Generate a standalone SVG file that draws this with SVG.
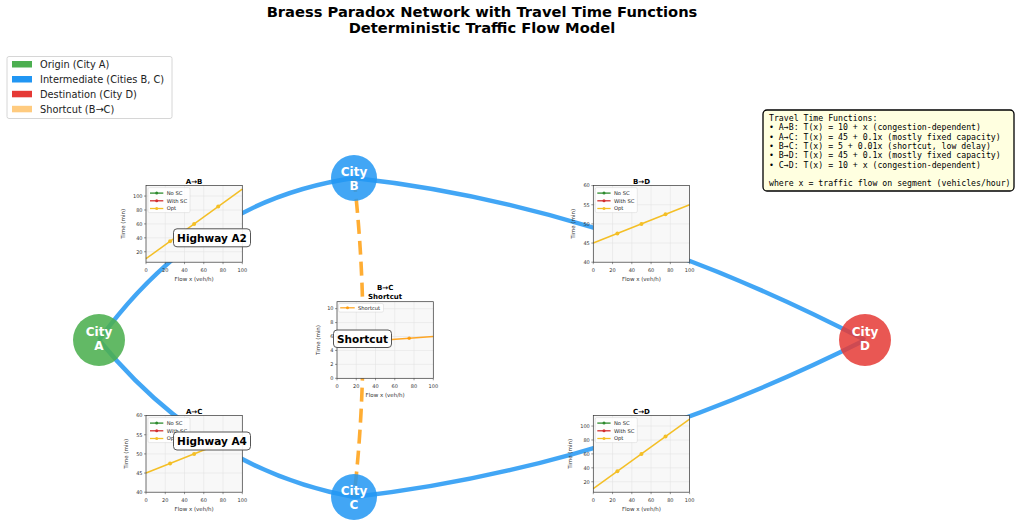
<svg xmlns="http://www.w3.org/2000/svg" width="1016" height="527" viewBox="0 0 1016 527">
<style>
.ttl{font-family:'DejaVu Sans',sans-serif;font-weight:bold;font-size:14.7px;fill:#000;text-anchor:middle}
.lgt{font-family:'DejaVu Sans',sans-serif;font-size:9.8px;fill:#222}
.edge{fill:none;stroke:#2196F3;stroke-width:4.4;stroke-opacity:0.85}
.sc{fill:none;stroke:#FF9800;stroke-width:3.6;stroke-opacity:0.8;stroke-dasharray:14 7}
.nt{font-family:'DejaVu Sans',sans-serif;font-weight:bold;font-size:12px;fill:#fff;text-anchor:middle}
.axbg{fill:#F8F8F8}
.spine{fill:none;stroke:#333;stroke-width:0.7}
.grid{fill:none;stroke:#E0E0E0;stroke-width:0.5}
.tk{fill:none;stroke:#333;stroke-width:0.5}
.xt{font-family:'DejaVu Sans',sans-serif;font-size:5px;fill:#333;text-anchor:middle}
.yt{font-family:'DejaVu Sans',sans-serif;font-size:5px;fill:#333;text-anchor:end}
.al{font-family:'DejaVu Sans',sans-serif;font-size:5.5px;fill:#333;text-anchor:middle}
.ct{font-family:'DejaVu Sans',sans-serif;font-weight:bold;font-size:7px;fill:#000;text-anchor:middle}
.opt{fill:none;stroke:#F4BF26;stroke-width:1.5}
.optm{fill:#F4BF26}
.scl{fill:none;stroke:#FF9800;stroke-opacity:0.85;stroke-width:1.3}
.scm{fill:#FF9800;fill-opacity:0.85}
.lgb{fill:#fff;fill-opacity:0.85;stroke:#CCC;stroke-width:0.4}
.lt{font-family:'DejaVu Sans',sans-serif;font-size:5.2px;fill:#222}
.hb{fill:#fff;fill-opacity:0.92;stroke:#555;stroke-width:1}
.ht{font-family:'DejaVu Sans',sans-serif;font-weight:bold;font-size:10.5px;fill:#000;text-anchor:middle}
.mono{font-family:'DejaVu Sans Mono','Liberation Mono',monospace;font-size:8.2px;fill:#000}
</style>

<g id="title">
<text class="ttl" x="482" y="17">Braess Paradox Network with Travel Time Functions</text>
<text class="ttl" x="482" y="33">Deterministic Traffic Flow Model</text>
</g>

<g id="legend">
<rect x="7" y="56.5" width="165" height="62" rx="2" fill="#fff" stroke="#CCC" stroke-width="0.8"/>
<rect x="12" y="61" width="20" height="6.5" fill="#4CAF50"/>
<text class="lgt" x="40" y="67.8">Origin (City A)</text>
<rect x="12" y="76" width="20" height="6.5" fill="#2196F3"/>
<text class="lgt" x="40" y="82.8">Intermediate (Cities B, C)</text>
<rect x="12" y="90.8" width="20" height="6.5" fill="#E53935"/>
<text class="lgt" x="40" y="97.6">Destination (City D)</text>
<rect x="12" y="105.8" width="20" height="6.5" fill="#FFCB7F"/>
<text class="lgt" x="40" y="112.6">Shortcut (B→C)</text>
</g>

<g id="info-box">
<rect x="763" y="110" width="251" height="81" rx="4" fill="#FFFFE0" stroke="#000" stroke-width="1.3"/>
<text class="mono" x="769" y="121">Travel Time Functions:</text>
<text class="mono" x="769" y="130.3">• A→B: T(x) = 10 + x (congestion-dependent)</text>
<text class="mono" x="769" y="139.6">• A→C: T(x) = 45 + 0.1x (mostly fixed capacity)</text>
<text class="mono" x="769" y="148.9">• B→C: T(x) = 5 + 0.01x (shortcut, low delay)</text>
<text class="mono" x="769" y="158.2">• B→D: T(x) = 45 + 0.1x (mostly fixed capacity)</text>
<text class="mono" x="769" y="167.5">• C→D: T(x) = 10 + x (congestion-dependent)</text>
<text class="mono" x="769" y="186">where x = traffic flow on segment (vehicles/hour)</text>
</g>

<g id="connectors">
<path class="edge" d="M99,340 Q200,200 354,178"/>
<path class="edge" d="M354,178 Q605,205 865,340"/>
<path class="edge" d="M99,340 Q205,470 354,497"/>
<path class="edge" d="M354,497 Q610,468 865,340"/>
<path class="sc" d="M354,178 Q372,338 354,497"/>
</g>

<g id="node-A">
<circle cx="99" cy="340" r="26" fill="#4CAF50" fill-opacity="0.88"/>
<text class="nt" x="99" y="335.5">City</text>
<text class="nt" x="99" y="349.5">A</text>
</g>
<g id="node-B">
<circle cx="354" cy="178" r="23" fill="#2196F3" fill-opacity="0.85"/>
<text class="nt" x="354" y="175.5">City</text>
<text class="nt" x="354" y="189.5">B</text>
</g>
<g id="node-C">
<circle cx="354" cy="497" r="23" fill="#2196F3" fill-opacity="0.85"/>
<text class="nt" x="354" y="494.5">City</text>
<text class="nt" x="354" y="508.5">C</text>
</g>
<g id="node-D">
<circle cx="865" cy="340" r="26" fill="#E53935" fill-opacity="0.85"/>
<text class="nt" x="865" y="335.5">City</text>
<text class="nt" x="865" y="349.5">D</text>
</g>

<g id="chart-AB" transform="translate(146,185.6)">
<rect class="axbg" width="96.3" height="76.6"/>
<path class="grid" d="M19.26,0V76.6M38.52,0V76.6M57.78,0V76.6M77.04,0V76.6M0,66.16H96.3M0,52.23H96.3M0,38.3H96.3M0,24.37H96.3M0,10.45H96.3"/>
<path class="tk" d="M0,76.6v2M19.26,76.6v2M38.52,76.6v2M57.78,76.6v2M77.04,76.6v2M96.3,76.6v2M0,66.16h-2M0,52.23h-2M0,38.3h-2M0,24.37h-2M0,10.45h-2"/>
<text class="xt" x="0" y="86.8">0</text><text class="xt" x="19.26" y="86.8">20</text><text class="xt" x="38.52" y="86.8">40</text><text class="xt" x="57.78" y="86.8">60</text><text class="xt" x="77.04" y="86.8">80</text><text class="xt" x="96.3" y="86.8">100</text>
<text class="yt" x="-3.5" y="67.96">20</text><text class="yt" x="-3.5" y="54.03">40</text><text class="yt" x="-3.5" y="40.1">60</text><text class="yt" x="-3.5" y="26.17">80</text><text class="yt" x="-3.5" y="12.25">100</text>
<text class="al" x="48.15" y="95.5">Flow x (veh/h)</text>
<text class="al" transform="translate(-21,38.3) rotate(-90)">Time (min)</text>
<text class="ct" x="48.15" y="-2">A→B</text>
<path class="opt" d="M0,73.12L96.3,3.48"/>
<circle class="optm" cx="24.08" cy="55.71" r="2"/><circle class="optm" cx="48.15" cy="38.3" r="2"/><circle class="optm" cx="72.23" cy="20.89" r="2"/>
<rect class="lgb" x="2" y="2" width="42" height="25" rx="1.5"/>
<path d="M4,7.5h13.3" stroke="#2E8B2E" stroke-width="1.3"/><circle cx="10.7" cy="7.5" r="1.5" fill="#2E8B2E"/><text class="lt" x="20.7" y="9.3">No SC</text>
<path d="M4,15.2h13.3" stroke="#D32F2F" stroke-width="1.3"/><circle cx="10.7" cy="15.2" r="1.5" fill="#D32F2F"/><text class="lt" x="20.7" y="17">With SC</text>
<path d="M4,22.9h13.3" stroke="#F4BF26" stroke-width="1.3"/><circle cx="10.7" cy="22.9" r="1.5" fill="#F4BF26"/><text class="lt" x="20.7" y="24.7">Opt</text>
<rect class="spine" width="96.3" height="76.6"/>
</g>

<g id="chart-BD" transform="translate(593.3,185.6)">
<rect class="axbg" width="96.3" height="76.6"/>
<path class="grid" d="M19.26,0V76.6M38.52,0V76.6M57.78,0V76.6M77.04,0V76.6M0,57.45H96.3M0,38.3H96.3M0,19.15H96.3"/>
<path class="tk" d="M0,76.6v2M19.26,76.6v2M38.52,76.6v2M57.78,76.6v2M77.04,76.6v2M96.3,76.6v2M0,76.6h-2M0,57.45h-2M0,38.3h-2M0,19.15h-2M0,0h-2"/>
<text class="xt" x="0" y="86.8">0</text><text class="xt" x="19.26" y="86.8">20</text><text class="xt" x="38.52" y="86.8">40</text><text class="xt" x="57.78" y="86.8">60</text><text class="xt" x="77.04" y="86.8">80</text><text class="xt" x="96.3" y="86.8">100</text>
<text class="yt" x="-3.5" y="78.4">40</text><text class="yt" x="-3.5" y="59.25">45</text><text class="yt" x="-3.5" y="40.1">50</text><text class="yt" x="-3.5" y="20.95">55</text><text class="yt" x="-3.5" y="1.8">60</text>
<text class="al" x="48.15" y="95.5">Flow x (veh/h)</text>
<text class="al" transform="translate(-18.5,38.3) rotate(-90)">Time (min)</text>
<text class="ct" x="48.15" y="-2">B→D</text>
<path class="opt" d="M0,57.45L96.3,19.15"/>
<circle class="optm" cx="24.08" cy="47.88" r="2"/><circle class="optm" cx="48.15" cy="38.3" r="2"/><circle class="optm" cx="72.23" cy="28.73" r="2"/>
<rect class="lgb" x="2" y="2" width="42" height="25" rx="1.5"/>
<path d="M4,7.5h13.3" stroke="#2E8B2E" stroke-width="1.3"/><circle cx="10.7" cy="7.5" r="1.5" fill="#2E8B2E"/><text class="lt" x="20.7" y="9.3">No SC</text>
<path d="M4,15.2h13.3" stroke="#D32F2F" stroke-width="1.3"/><circle cx="10.7" cy="15.2" r="1.5" fill="#D32F2F"/><text class="lt" x="20.7" y="17">With SC</text>
<path d="M4,22.9h13.3" stroke="#F4BF26" stroke-width="1.3"/><circle cx="10.7" cy="22.9" r="1.5" fill="#F4BF26"/><text class="lt" x="20.7" y="24.7">Opt</text>
<rect class="spine" width="96.3" height="76.6"/>
</g>

<g id="chart-BC" transform="translate(337,301.7)">
<rect class="axbg" width="96.3" height="76.6"/>
<path class="grid" d="M19.26,0V76.6M38.52,0V76.6M57.78,0V76.6M77.04,0V76.6M0,62.67H96.3M0,48.75H96.3M0,34.82H96.3M0,20.89H96.3M0,6.96H96.3"/>
<path class="tk" d="M0,76.6v2M19.26,76.6v2M38.52,76.6v2M57.78,76.6v2M77.04,76.6v2M96.3,76.6v2M0,76.6h-2M0,62.67h-2M0,48.75h-2M0,34.82h-2M0,20.89h-2M0,6.96h-2"/>
<text class="xt" x="0" y="86.8">0</text><text class="xt" x="19.26" y="86.8">20</text><text class="xt" x="38.52" y="86.8">40</text><text class="xt" x="57.78" y="86.8">60</text><text class="xt" x="77.04" y="86.8">80</text><text class="xt" x="96.3" y="86.8">100</text>
<text class="yt" x="-3.5" y="78.4">0</text><text class="yt" x="-3.5" y="64.47">2</text><text class="yt" x="-3.5" y="50.55">4</text><text class="yt" x="-3.5" y="36.62">6</text><text class="yt" x="-3.5" y="22.69">8</text><text class="yt" x="-3.5" y="8.76">10</text>
<text class="al" x="48.15" y="95.5">Flow x (veh/h)</text>
<text class="al" transform="translate(-17,38.3) rotate(-90)">Time (min)</text>
<text class="ct" x="48.15" y="-12.2">B→C</text>
<text class="ct" x="48.15" y="-3">Shortcut</text>
<path class="scl" d="M0,41.78L96.3,34.82"/>
<circle class="scm" cx="24.08" cy="40.04" r="1.8"/><circle class="scm" cx="48.15" cy="38.3" r="1.8"/><circle class="scm" cx="72.23" cy="36.56" r="1.8"/>
<rect class="lgb" x="1.5" y="1.8" width="45" height="8.6" rx="1.5"/>
<path d="M3.2,6.1h14.5" stroke="#FF9800" stroke-opacity="0.85" stroke-width="1.3"/><circle cx="10.5" cy="6.1" r="1.5" fill="#FF9800" fill-opacity="0.85"/><text class="lt" x="21" y="7.9">Shortcut</text>
<rect class="spine" width="96.3" height="76.6"/>
</g>

<g id="chart-AC" transform="translate(146,415.6)">
<rect class="axbg" width="96.3" height="76.6"/>
<path class="grid" d="M19.26,0V76.6M38.52,0V76.6M57.78,0V76.6M77.04,0V76.6M0,57.45H96.3M0,38.3H96.3M0,19.15H96.3"/>
<path class="tk" d="M0,76.6v2M19.26,76.6v2M38.52,76.6v2M57.78,76.6v2M77.04,76.6v2M96.3,76.6v2M0,76.6h-2M0,57.45h-2M0,38.3h-2M0,19.15h-2M0,0h-2"/>
<text class="xt" x="0" y="86.8">0</text><text class="xt" x="19.26" y="86.8">20</text><text class="xt" x="38.52" y="86.8">40</text><text class="xt" x="57.78" y="86.8">60</text><text class="xt" x="77.04" y="86.8">80</text><text class="xt" x="96.3" y="86.8">100</text>
<text class="yt" x="-3.5" y="78.4">40</text><text class="yt" x="-3.5" y="59.25">45</text><text class="yt" x="-3.5" y="40.1">50</text><text class="yt" x="-3.5" y="20.95">55</text><text class="yt" x="-3.5" y="1.8">60</text>
<text class="al" x="48.15" y="95.5">Flow x (veh/h)</text>
<text class="al" transform="translate(-18.5,38.3) rotate(-90)">Time (min)</text>
<text class="ct" x="48.15" y="-2">A→C</text>
<path class="opt" d="M0,57.45L96.3,19.15"/>
<circle class="optm" cx="24.08" cy="47.88" r="2"/><circle class="optm" cx="48.15" cy="38.3" r="2"/><circle class="optm" cx="72.23" cy="28.73" r="2"/>
<rect class="lgb" x="2" y="2" width="42" height="25" rx="1.5"/>
<path d="M4,7.5h13.3" stroke="#2E8B2E" stroke-width="1.3"/><circle cx="10.7" cy="7.5" r="1.5" fill="#2E8B2E"/><text class="lt" x="20.7" y="9.3">No SC</text>
<path d="M4,15.2h13.3" stroke="#D32F2F" stroke-width="1.3"/><circle cx="10.7" cy="15.2" r="1.5" fill="#D32F2F"/><text class="lt" x="20.7" y="17">With SC</text>
<path d="M4,22.9h13.3" stroke="#F4BF26" stroke-width="1.3"/><circle cx="10.7" cy="22.9" r="1.5" fill="#F4BF26"/><text class="lt" x="20.7" y="24.7">Opt</text>
<rect class="spine" width="96.3" height="76.6"/>
</g>

<g id="chart-CD" transform="translate(593.3,415.6)">
<rect class="axbg" width="96.3" height="76.6"/>
<path class="grid" d="M19.26,0V76.6M38.52,0V76.6M57.78,0V76.6M77.04,0V76.6M0,66.16H96.3M0,52.23H96.3M0,38.3H96.3M0,24.37H96.3M0,10.45H96.3"/>
<path class="tk" d="M0,76.6v2M19.26,76.6v2M38.52,76.6v2M57.78,76.6v2M77.04,76.6v2M96.3,76.6v2M0,66.16h-2M0,52.23h-2M0,38.3h-2M0,24.37h-2M0,10.45h-2"/>
<text class="xt" x="0" y="86.8">0</text><text class="xt" x="19.26" y="86.8">20</text><text class="xt" x="38.52" y="86.8">40</text><text class="xt" x="57.78" y="86.8">60</text><text class="xt" x="77.04" y="86.8">80</text><text class="xt" x="96.3" y="86.8">100</text>
<text class="yt" x="-3.5" y="67.96">20</text><text class="yt" x="-3.5" y="54.03">40</text><text class="yt" x="-3.5" y="40.1">60</text><text class="yt" x="-3.5" y="26.17">80</text><text class="yt" x="-3.5" y="12.25">100</text>
<text class="al" x="48.15" y="95.5">Flow x (veh/h)</text>
<text class="al" transform="translate(-21,38.3) rotate(-90)">Time (min)</text>
<text class="ct" x="48.15" y="-2">C→D</text>
<path class="opt" d="M0,73.12L96.3,3.48"/>
<circle class="optm" cx="24.08" cy="55.71" r="2"/><circle class="optm" cx="48.15" cy="38.3" r="2"/><circle class="optm" cx="72.23" cy="20.89" r="2"/>
<rect class="lgb" x="2" y="2" width="42" height="25" rx="1.5"/>
<path d="M4,7.5h13.3" stroke="#2E8B2E" stroke-width="1.3"/><circle cx="10.7" cy="7.5" r="1.5" fill="#2E8B2E"/><text class="lt" x="20.7" y="9.3">No SC</text>
<path d="M4,15.2h13.3" stroke="#D32F2F" stroke-width="1.3"/><circle cx="10.7" cy="15.2" r="1.5" fill="#D32F2F"/><text class="lt" x="20.7" y="17">With SC</text>
<path d="M4,22.9h13.3" stroke="#F4BF26" stroke-width="1.3"/><circle cx="10.7" cy="22.9" r="1.5" fill="#F4BF26"/><text class="lt" x="20.7" y="24.7">Opt</text>
<rect class="spine" width="96.3" height="76.6"/>
</g>

<g id="label-highway-a2">
<rect class="hb" x="173.5" y="228.8" width="77" height="18" rx="3.5"/>
<text class="ht" x="212" y="241.8">Highway A2</text>
</g>
<g id="label-highway-a4">
<rect class="hb" x="173.5" y="432" width="77" height="18" rx="3.5"/>
<text class="ht" x="212" y="445">Highway A4</text>
</g>
<g id="label-shortcut">
<rect class="hb" x="333.5" y="330" width="58" height="17.5" rx="3.5"/>
<text class="ht" x="362.5" y="342.7">Shortcut</text>
</g>
</svg>
